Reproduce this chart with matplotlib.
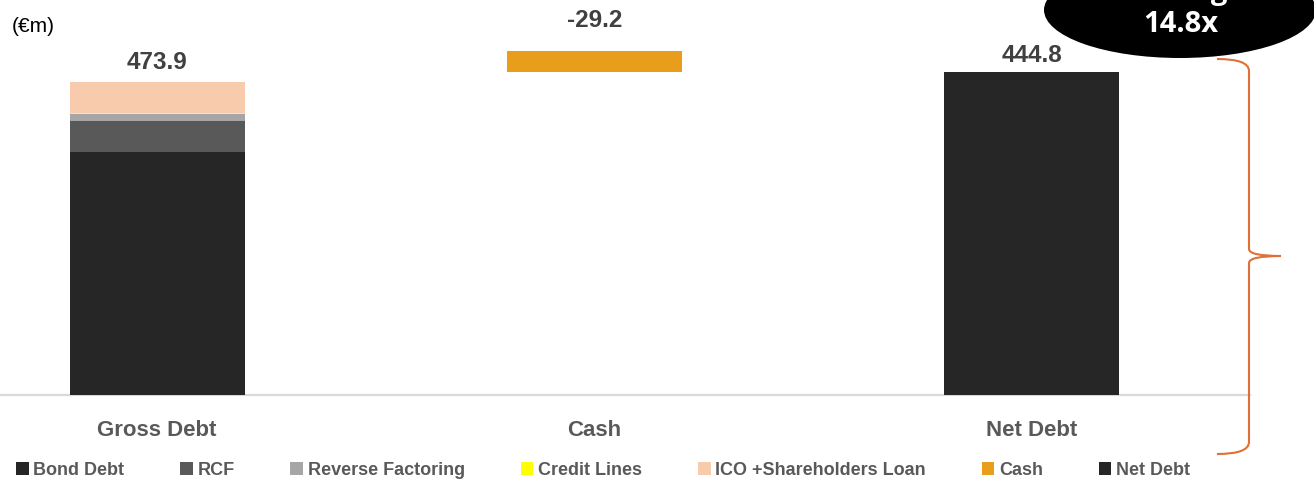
import matplotlib.pyplot as plt
from matplotlib.patches import Ellipse, Patch, PathPatch
from matplotlib.path import Path

plt.rcParams["font.family"] = ["Liberation Sans", "DejaVu Sans"]

categories = ["Gross Debt", "Cash", "Net Debt"]
totals = [473.9, -29.2, 444.8]

# gross debt split
gross_parts = ["Bond Debt", "RCF", "Reverse Factoring", "Credit Lines", "ICO +Shareholders Loan"]
gross_values = [334.2, 42.7, 9.6, 2.1, 41.8]
cash_value = 29.2
net_debt = 444.8
leverage = "14.8x"

colors = {
    "Bond Debt": "#262626",
    "RCF": "#595959",
    "Reverse Factoring": "#A6A6A6",
    "Credit Lines": "#FFFF00",
    "ICO +Shareholders Loan": "#F8CBAD",
    "Cash": "#E89D1B",
    "Net Debt": "#262626",
}

W, H = 1314, 481
fig = plt.figure(figsize=(W / 100, H / 100), dpi=100)
ax = fig.add_axes([0, 0, 1, 1])
ax.set_xlim(-0.3589, 2.6446)
ax.set_ylim(-117.8, 545.0)
ax.axis("off")

width = 0.4
bottom = 0
for name, val in zip(gross_parts, gross_values):
    ax.bar(0, val, width, bottom=bottom, color=colors[name], linewidth=0)
    bottom += val
gross_top = bottom

ax.bar(1, cash_value, width, bottom=net_debt, color=colors["Cash"], linewidth=0)
ax.bar(2, net_debt, width, color=colors["Net Debt"], linewidth=0)

ax.axhline(0, xmin=0, xmax=1250 / W, color="#D9D9D9", lw=1.6, zorder=0)

tops = [gross_top, net_debt + cash_value, net_debt]
offsets = [21, 31, 17]
for i, (val, top, off) in enumerate(zip(totals, tops, offsets)):
    ax.annotate(f"{val:.1f}", (i, top), xytext=(0, off * 0.72), textcoords="offset points",
                ha="center", va="center", fontsize=17.5, fontweight="bold", color="#404040")

for i, cat in enumerate(categories):
    ax.text(i, 1 - 430 / H, cat, transform=ax.get_xaxis_transform(), ha="center", va="center",
            fontsize=16, fontweight="bold", color="#595959")

fig.text(12 / W, 1 - 26 / H, "(€m)", ha="left", va="center", fontsize=15, color="#000000")

# leverage bubble
fig.patches.append(Ellipse((1180 / W, 1 - 11 / H), 272 / W, 96 / H, transform=fig.transFigure,
                           facecolor="black", edgecolor="none"))
fig.text(1180 / W, 1 + 8 / H, "Leverage", ha="center", va="center", fontsize=21,
         fontweight="bold", color="white", family=["Open Sans", "DejaVu Sans"])
fig.text(1181 / W, 1 - 25 / H, leverage, ha="center", va="center", fontsize=21,
         fontweight="bold", color="white", family=["Open Sans", "DejaVu Sans"])

# curly brace on the right
pts = [(1217, 60), (1249, 60), (1249, 72), (1249, 250), (1249, 257), (1281, 257),
       (1249, 257), (1249, 264), (1249, 443), (1249, 455), (1217, 455)]
codes = [Path.MOVETO, Path.CURVE3, Path.CURVE3, Path.LINETO, Path.CURVE3, Path.CURVE3,
         Path.CURVE3, Path.CURVE3, Path.LINETO, Path.CURVE3, Path.CURVE3]
brace = Path([(x / W, 1 - y / H) for x, y in pts], codes)
fig.patches.append(PathPatch(brace, transform=fig.transFigure, facecolor="none",
                             edgecolor="#E07038", lw=1.5))

handles = [Patch(facecolor=colors[n], edgecolor="none") for n in gross_parts + ["Cash", "Net Debt"]]
fig.legend(handles, gross_parts + ["Cash", "Net Debt"], ncol=7, loc="center",
           bbox_to_anchor=(603 / W, 1 - 471 / H), frameon=False,
           prop={"weight": "bold", "size": 13}, labelcolor="#595959",
           handlelength=0.7, handleheight=0.7, handletextpad=0.25, columnspacing=3.1)

fig.savefig("out.png", dpi=100)
